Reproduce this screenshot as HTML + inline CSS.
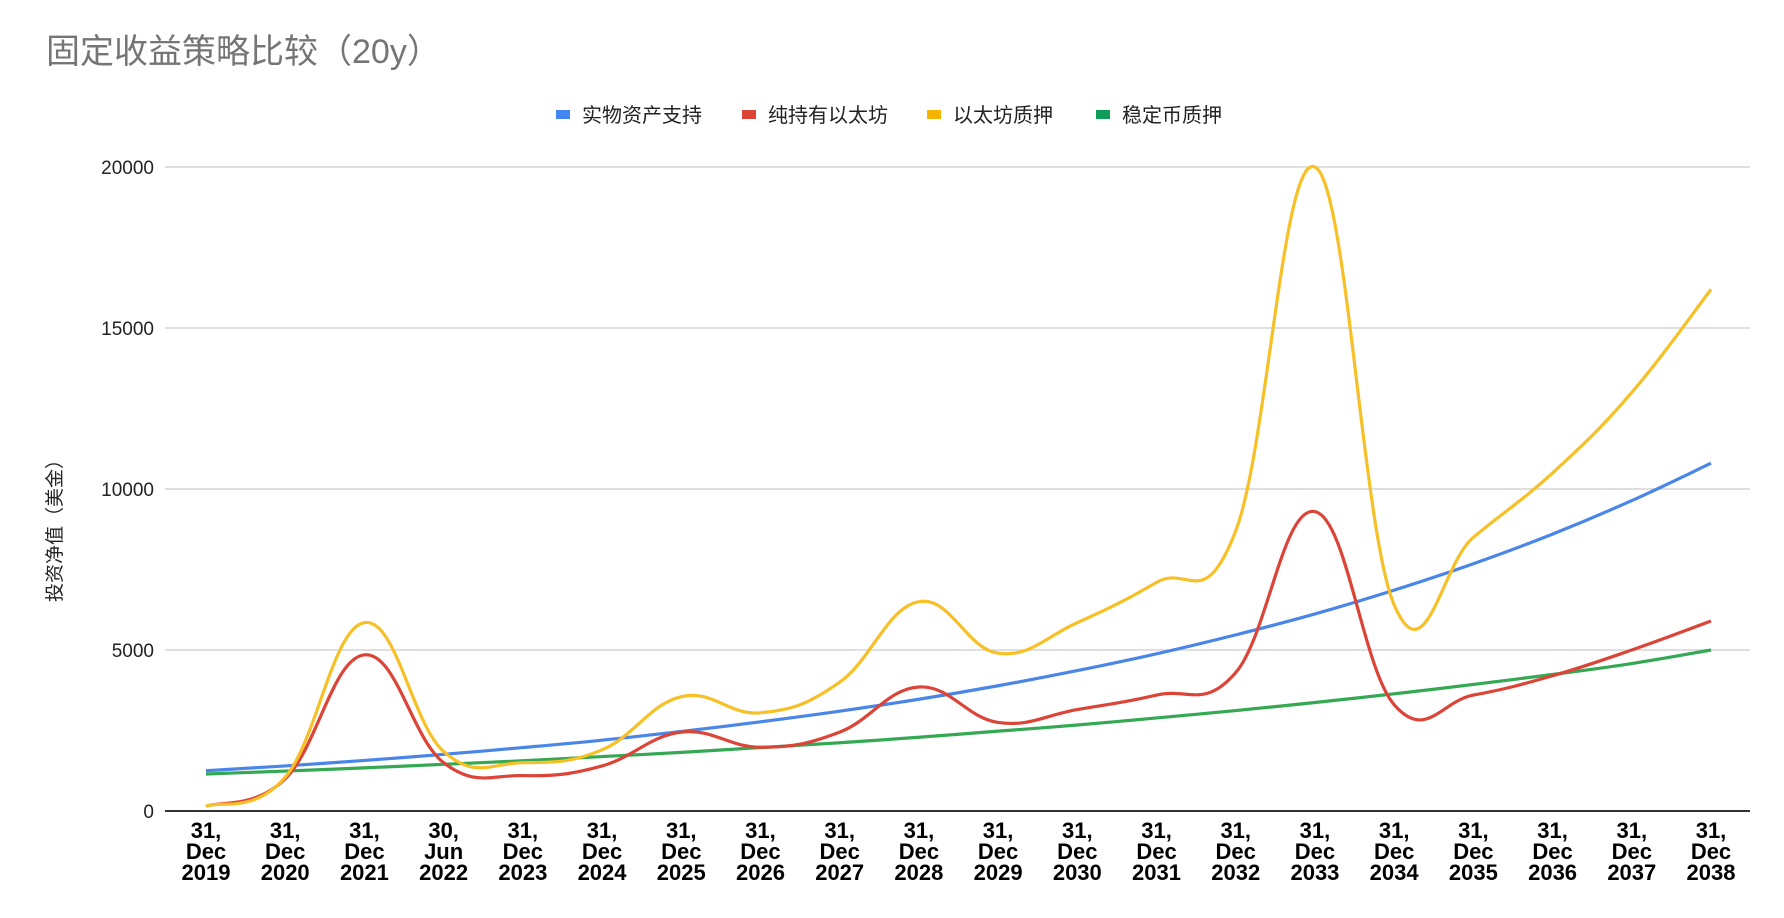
<!DOCTYPE html>
<html><head><meta charset="utf-8">
<style>
body{margin:0;background:#fff;}
svg{display:block;font-family:"Liberation Sans","Noto Sans CJK SC",sans-serif;}
</style></head>
<body>
<svg id="chart" width="1784" height="918" viewBox="0 0 1784 918" xmlns="http://www.w3.org/2000/svg">
<rect width="1784" height="918" fill="#fff"/>
<text x="46" y="63" font-size="34" fill="#757575">固定收益策略比较（20y）</text>
<g font-size="20" fill="#222">
<g><rect x="556" y="110" width="14" height="9" fill="#4285f4"/><text x="582" y="122">实物资产支持</text></g>
<g><rect x="742" y="110" width="14" height="9" fill="#db4437"/><text x="768" y="122">纯持有以太坊</text></g>
<g><rect x="927" y="110" width="14" height="9" fill="#f4b400"/><text x="953" y="122">以太坊质押</text></g>
<g><rect x="1096" y="110" width="14" height="9" fill="#0f9d58"/><text x="1122" y="122">稳定币质押</text></g>
</g>
<text transform="translate(61,526) rotate(-90)" text-anchor="middle" font-size="19" fill="#222">投资净值（美金）</text>
<g id="grid"></g>
<g id="series"></g>
<g id="xlabels"></g>
</svg>
<script>
const categories=[["31,","Dec","2019"],["31,","Dec","2020"],["31,","Dec","2021"],["30,","Jun","2022"],["31,","Dec","2023"],["31,","Dec","2024"],["31,","Dec","2025"],["31,","Dec","2026"],["31,","Dec","2027"],["31,","Dec","2028"],["31,","Dec","2029"],["31,","Dec","2030"],["31,","Dec","2031"],["31,","Dec","2032"],["31,","Dec","2033"],["31,","Dec","2034"],["31,","Dec","2035"],["31,","Dec","2036"],["31,","Dec","2037"],["31,","Dec","2038"]];
const realAsset=[1250,1400,1570,1760,1970,2200,2470,2770,3100,3470,3890,4360,4880,5470,6120,6860,7680,8600,9640,10800];
const holdEth=[150,1000,4850,1500,1100,1400,2450,1980,2450,3850,2750,3150,3600,4300,9300,3300,3600,4200,5000,5900];
const ethStaking=[150,1050,5850,1850,1500,1900,3550,3050,4000,6500,4900,5850,7100,8700,20000,6400,8500,10500,13000,16200];
const stableStaking=[1150,1240,1340,1450,1560,1690,1820,1970,2120,2290,2480,2670,2890,3120,3370,3640,3930,4240,4580,5000];
const yTicks=[0,5000,10000,15000,20000];
const NS="http://www.w3.org/2000/svg";
const X0=206,X1=1711,Y0=811,Y1=167,L=165,R=1750;
const x=i=>X0+(X1-X0)*i/(categories.length-1);
const y=v=>Y0-(Y0-Y1)*v/20000;
function mk(t,a,p){const e=document.createElementNS(NS,t);for(const k in a)e.setAttribute(k,a[k]);p.appendChild(e);return e;}
const grid=document.getElementById('grid');
yTicks.forEach(v=>{
  if(v>0){const g=mk('line',{x1:L,x2:R,y1:y(v),y2:y(v),stroke:'#ccc','stroke-width':1.3},grid);
  
  }
  const t=mk('text',{x:154,y:y(v)+7,'text-anchor':'end','font-size':19,fill:'#222'},grid);
  
  
  t.textContent=v;
});
const ax=mk('line',{x1:L,x2:R,y1:Y0,y2:Y0,stroke:'#333','stroke-width':2},grid);


function path(vals){
  const p=vals.map((v,i)=>[x(i),y(v)]);
  let d='M'+p[0][0]+','+p[0][1];
  for(let i=0;i<p.length-1;i++){
    const a=p[i-1]||p[i],b=p[i],c=p[i+1],e=p[i+2]||c;
    const s=0.2;
    d+=' C'+(b[0]+(c[0]-a[0])*s)+','+(b[1]+(c[1]-a[1])*s)+' '+(c[0]-(e[0]-b[0])*s)+','+(c[1]-(e[1]-b[1])*s)+' '+c[0]+','+c[1];
  }
  return d;
}
const ser=document.getElementById('series');
[[stableStaking,'#34a853','series-stablecoin-staking'],[realAsset,'#4a86e8','series-real-asset'],[holdEth,'#db4437','series-hold-eth'],[ethStaking,'#f6c026','series-eth-staking']].forEach(s=>{
  const e=mk('path',{d:path(s[0]),fill:'none',stroke:s[1],'stroke-width':3.2,'stroke-linejoin':'round'},ser);
  
  
});
const xl=document.getElementById('xlabels');
categories.forEach((c,i)=>{
  const t=mk('text',{x:x(i),y:838,'text-anchor':'middle','font-size':22,'font-weight':'900',fill:'#000'},xl);
  
  
  c.forEach((w,j)=>{const s=mk('tspan',{x:x(i),dy:j?21:0},t);s.textContent=w;});
});
</script>
</body></html>
